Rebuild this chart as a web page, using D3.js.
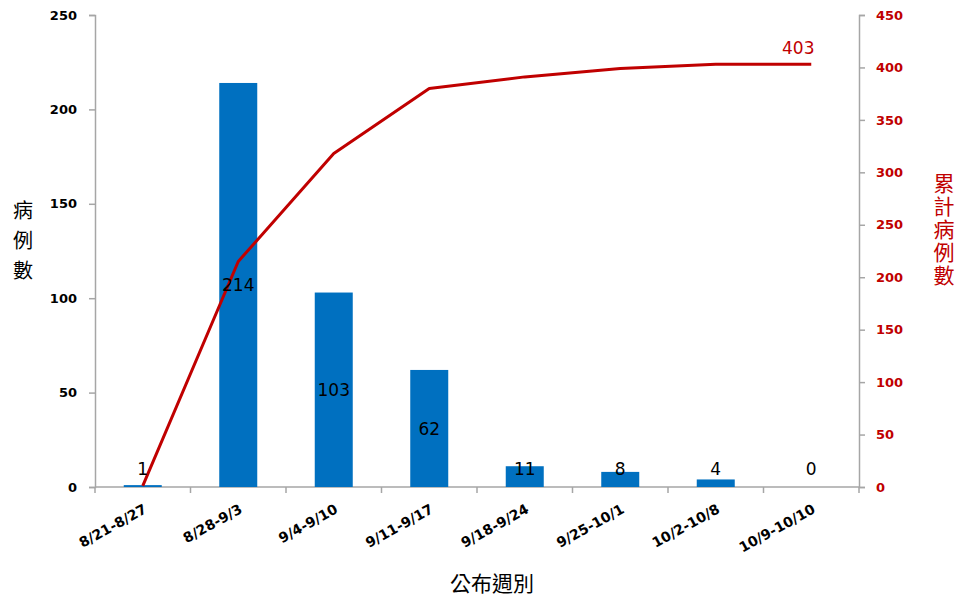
<!DOCTYPE html>
<html><head><meta charset="utf-8">
<script src="https://cdn.jsdelivr.net/npm/d3@7"></script>
<style>body{margin:0;background:#fff}svg{display:block}</style>
</head><body><svg id="c" width="962" height="601"></svg>
<script>
const categories = ["8/21-8/27","8/28-9/3","9/4-9/10","9/11-9/17","9/18-9/24","9/25-10/1","10/2-10/8","10/9-10/10"];
const weeklyCases = [1,214,103,62,11,8,4,0];
const cumulativeCases = [1,215,318,380,391,399,403,403];
const leftTicks = [0,50,100,150,200,250];
const rightTicks = [0,50,100,150,200,250,300,350,400,450];
const leftTitle = "病例數";
const rightTitle = "累計病例數";
const xTitle = "公布週別";

const svg = d3.select("#c");
const L = 95, R = 859, T = 15, B = 487;
const x = d3.scaleBand().domain(categories).range([L, R]).paddingInner(0).paddingOuter(0);
const yL = d3.scaleLinear().domain([0,250]).range([B, T]);
const yR = d3.scaleLinear().domain([0,450]).range([B, T]);
const axisCol = "#a6a6a6";
const barCol = "#0070c0";
const lineCol = "#c00000";
const tickFont = "'DejaVu Sans', Verdana, sans-serif";
const cjk = "'Noto Sans CJK TC', sans-serif";

// left axis
const gL = svg.append("g").attr("transform", `translate(${L},0)`)
  .call(d3.axisLeft(yL).tickValues(leftTicks).tickSize(6).tickPadding(12));
gL.attr("font-size", null).attr("font-family", null);
gL.selectAll("path,line").attr("stroke", axisCol).attr("stroke-width", 1.5);
gL.selectAll("text").style("font-family", tickFont).style("font-weight", "bold").style("font-size", "13px").attr("fill", "#000");

// right axis
const gR = svg.append("g").attr("transform", `translate(${R},0)`)
  .call(d3.axisRight(yR).tickValues(rightTicks).tickSize(6).tickPadding(11));
gR.attr("font-size", null).attr("font-family", null);
gR.selectAll("path,line").attr("stroke", axisCol).attr("stroke-width", 1.5);
gR.selectAll("text").style("font-family", tickFont).style("font-weight", "bold").style("font-size", "13px").attr("fill", lineCol);

// x axis line and boundary ticks
const gX = svg.append("g");
gX.append("line").attr("x1", L).attr("x2", R).attr("y1", B).attr("y2", B).attr("stroke", axisCol).attr("stroke-width", 1.5);
const bounds = categories.map(c => x(c)).concat([x(categories[categories.length-1]) + x.bandwidth()]);
gX.selectAll("line.tk").data(bounds).enter().append("line").attr("class","tk")
  .attr("x1", d => d).attr("x2", d => d).attr("y1", B).attr("y2", B + 6)
  .attr("stroke", axisCol).attr("stroke-width", 1.5);
gX.selectAll("text.xl").data(categories).enter().append("text").attr("class","xl")
  .attr("transform", d => `translate(${x(d) + x.bandwidth()/2 + 5},${B + 25}) rotate(-29)`)
  .attr("text-anchor", "end")
  .style("font-family", tickFont).style("font-weight", "bold").style("font-size", "14px").attr("fill", "#000")
  .text(d => d);

// bars
const bw = 38;
svg.selectAll("rect.bar").data(weeklyCases).enter().append("rect").attr("class","bar")
  .attr("x", (d,i) => x(categories[i]) + x.bandwidth()/2 - bw/2)
  .attr("y", d => yL(d)).attr("width", bw).attr("height", d => B - yL(d))
  .attr("fill", barCol);

// cumulative line
const line = d3.line().x((d,i) => x(categories[i]) + x.bandwidth()/2).y(d => yR(d));
svg.append("path").datum(cumulativeCases).attr("d", line)
  .attr("fill", "none").attr("stroke", lineCol).attr("stroke-width", 3).attr("stroke-linejoin", "round");

// bar labels
svg.selectAll("text.bl").data(weeklyCases).enter().append("text").attr("class","bl")
  .attr("x", (d,i) => x(categories[i]) + x.bandwidth()/2)
  .attr("y", d => Math.min((yL(d) + B)/2, 469))
  .attr("dy", "0.36em")
  .attr("text-anchor", "middle")
  .style("font-family", tickFont).style("font-size", "17px").attr("fill", "#000")
  .text(d => d);

// last cumulative label
const li = cumulativeCases.length - 1;
svg.append("text")
  .attr("x", x(categories[li]) + x.bandwidth()/2 - 13)
  .attr("y", yR(cumulativeCases[li]) - 10)
  .attr("text-anchor", "middle")
  .style("font-family", tickFont).style("font-size", "17px").attr("fill", lineCol)
  .text(cumulativeCases[li]);

// titles (vertical)
svg.append("text")
  .attr("x", 23).attr("y", 245)
  .attr("text-anchor", "middle")
  .style("writing-mode", "vertical-rl").style("text-orientation", "upright")
  .style("letter-spacing", "10px")
  .style("font-family", cjk).style("font-size", "20px").attr("fill", "#000")
  .text(leftTitle);
svg.append("text")
  .attr("x", 944).attr("y", 230)
  .attr("text-anchor", "middle")
  .style("writing-mode", "vertical-rl").style("text-orientation", "upright")
  .style("letter-spacing", "2px")
  .style("font-family", cjk).style("font-size", "21px").attr("fill", lineCol)
  .text(rightTitle);
svg.append("text").attr("x", 492).attr("y", 583).attr("dy","0.36em")
  .attr("text-anchor","middle").style("font-family", cjk).style("font-size", "21px").attr("fill","#000")
  .text(xTitle);
</script></body></html>
